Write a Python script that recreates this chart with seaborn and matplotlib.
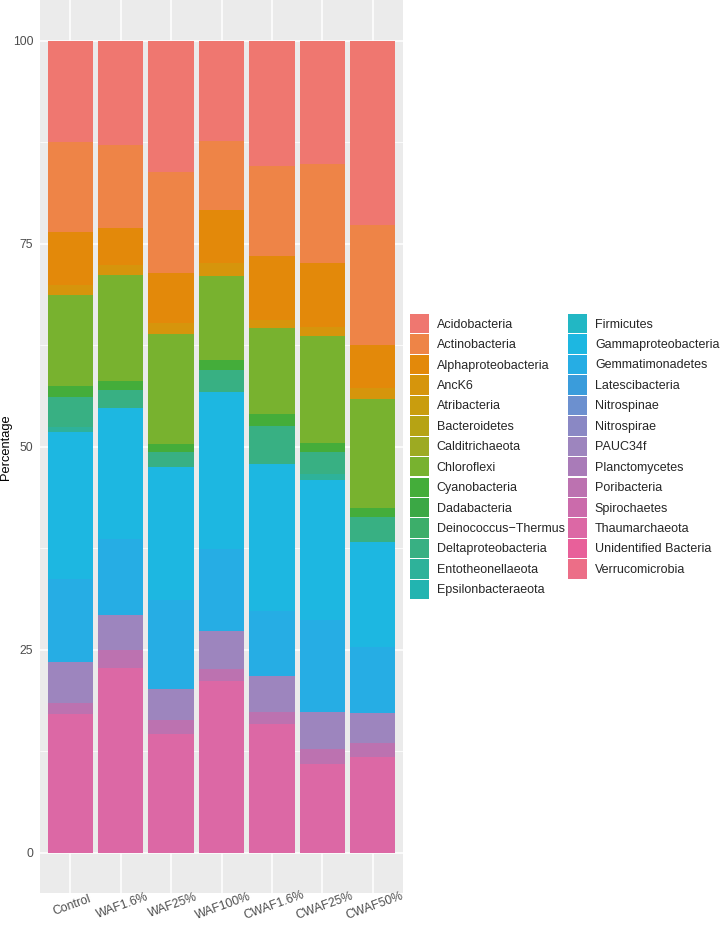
# Stacked relative abundance of phyla per treatment (ggplot-like look)
import pandas as pd
import matplotlib
matplotlib.use("Agg")
import matplotlib.pyplot as plt
import seaborn as sns

samples = ["Control", "WAF1.6%", "WAF25%", "WAF100%", "CWAF1.6%", "CWAF25%", "CWAF50%"]

taxa = [
    "Acidobacteria", "Actinobacteria", "Alphaproteobacteria", "AncK6", "Atribacteria",
    "Bacteroidetes", "Calditrichaeota", "Chloroflexi", "Cyanobacteria", "Dadabacteria",
    "Deinococcus\u2212Thermus", "Deltaproteobacteria", "Entotheonellaeota", "Epsilonbacteraeota",
    "Firmicutes", "Gammaproteobacteria", "Gemmatimonadetes", "Latescibacteria", "Nitrospinae",
    "Nitrospirae", "PAUC34f", "Planctomycetes", "Poribacteria", "Spirochaetes",
    "Thaumarchaeota", "Unidentified Bacteria", "Verrucomicrobia",
]

# percentages per sample, same order as taxa
control   = [12.5, 11.0, 6.6, 1.2, 0, 0, 0, 11.2, 1.4, 0, 0, 3.7, 0.6, 0, 0, 18.1, 10.2, 0, 0, 0, 5.0, 0, 1.4, 0, 17.1, 0, 0]
waf1_6    = [12.8, 10.3, 4.5, 1.2, 0, 0, 0, 13.1, 1.1, 0, 0, 2.2, 0, 0, 0, 16.1, 9.4, 0, 0, 0, 4.3, 0, 2.2, 0, 22.8, 0, 0]
waf25     = [16.2, 12.4, 6.2, 1.3, 0, 0, 0, 13.5, 1.0, 0, 0, 1.9, 0, 0, 0, 16.4, 10.9, 0, 0, 0, 3.8, 0, 1.8, 0, 14.6, 0, 0]
waf100    = [12.3, 8.5, 6.5, 1.6, 0, 0, 0, 10.4, 1.2, 0, 0, 2.7, 0, 0, 0, 19.4, 10.1, 0, 0, 0, 4.7, 0, 1.4, 0, 21.2, 0, 0]
cwaf1_6   = [15.4, 11.1, 7.9, 1.0, 0, 0, 0, 10.6, 1.4, 0, 0, 4.7, 0, 0, 0, 18.1, 8.0, 0, 0, 0, 4.5, 0, 1.4, 0, 15.9, 0, 0]
cwaf25    = [15.1, 12.2, 7.9, 1.1, 0, 0, 0, 13.2, 1.1, 0, 0, 2.7, 0.8, 0, 0, 17.2, 11.4, 0, 0, 0, 4.5, 0, 1.9, 0, 10.9, 0, 0]
cwaf50    = [22.7, 14.7, 5.4, 1.3, 0, 0, 0, 13.4, 1.2, 0, 0, 3.0, 0, 0, 0, 12.9, 8.2, 0, 0, 0, 3.7, 0, 1.7, 0, 11.8, 0, 0]

abundance = [control, waf1_6, waf25, waf100, cwaf1_6, cwaf25, cwaf50]

# colours as they appear in the figure's legend
colors = [
    "#EF7770", "#EE8447", "#E3890A", "#D6950C", "#C99D0E", "#B6A314", "#9DAA22",
    "#78B22F", "#44AD3A", "#3BA845", "#3CAE6A", "#38B083", "#2EB29A", "#22B4B0",
    "#22B7C4", "#1DB7E1", "#26ADE4", "#3A9CDB", "#6C90CF", "#8A88C4", "#9D85BE",
    "#A97BB8", "#BC72B0", "#CB6BAB", "#DC68A5", "#E8609A", "#EC6E87",
]

rows = []
for sample, values in zip(samples, abundance):
    for taxon, pct in zip(taxa, values):
        rows.append({"sample": sample, "taxon": taxon, "pct": pct})
df = pd.DataFrame(rows)

sns.set_theme(style="darkgrid", rc={
    "axes.facecolor": "#EBEBEB",
    "grid.color": "white",
    "axes.edgecolor": "#EBEBEB",
})
plt.rcParams["font.family"] = ["Liberation Sans", "DejaVu Sans"]

fig, ax = plt.subplots(figsize=(7.2, 9.26), dpi=100)
fig.subplots_adjust(left=40 / 720, right=403 / 720, top=1 - 0.4 / 926, bottom=1 - 893.3 / 926)

sns.histplot(data=df, x="sample", hue="taxon", weights="pct", hue_order=taxa,
             palette=colors, multiple="stack", discrete=True, shrink=0.9,
             alpha=1, linewidth=0, ax=ax)

ax.set_xlim(-0.6, len(samples) - 0.4)
ax.set_ylim(-5, 105)
ax.set_yticks([0, 25, 50, 75, 100])
ax.set_yticks([12.5, 37.5, 62.5, 87.5], minor=True)
ax.set_xticks(range(len(samples)))
ax.set_xticklabels(samples)
plt.setp(ax.get_xticklabels(), rotation=20, ha="center", va="top", rotation_mode="anchor")
ax.grid(which="major", color="white", linewidth=1.1)
ax.grid(which="minor", axis="y", color="white", linewidth=0.55)
ax.tick_params(axis="both", which="major", length=2.75, width=0.8, color="#333333",
               labelcolor="#4D4D4D", labelsize=8.8, pad=2.2)
ax.tick_params(axis="y", which="minor", length=0)
for spine in ax.spines.values():
    spine.set_visible(False)

ax.set_xlabel("")
ax.set_ylabel("Percentage", fontsize=9.3, color="black", labelpad=0.5)

sns.move_legend(ax, "upper left", bbox_to_anchor=(410 / 720, 1 - 314 / 926),
                bbox_transform=fig.transFigure, ncol=2, title=None, frameon=False,
                fontsize=9, handlelength=1.54, handleheight=2.0, labelspacing=0.09,
                handletextpad=0.6, columnspacing=0.27, borderpad=0, borderaxespad=0)

fig.savefig("out.png", dpi=100, facecolor="white")
